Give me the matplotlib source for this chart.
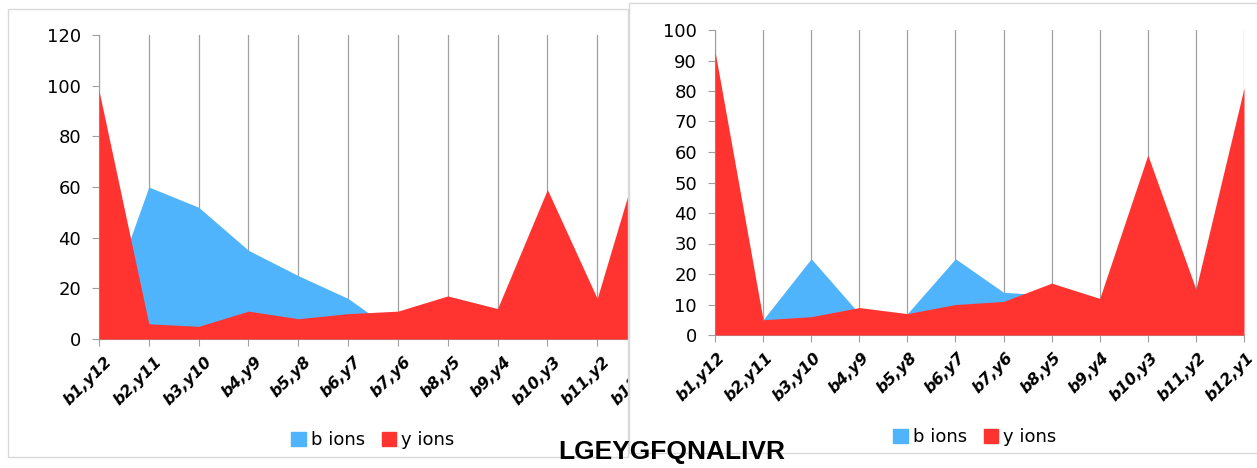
import matplotlib.pyplot as plt
from matplotlib.patches import Rectangle, Patch

# fragment ion intensities for LGEYGFQNALIVR, two spectra
labels = ["b1,y12", "b2,y11", "b3,y10", "b4,y9", "b5,y8", "b6,y7",
          "b7,y6", "b8,y5", "b9,y4", "b10,y3", "b11,y2", "b12,y1"]

b_left = [5, 60, 52, 35, 25, 16, 2, 3, 2, 1, 1, 0]
y_left = [98, 6, 5, 11, 8, 10, 11, 17, 12, 59, 16, 82]

b_right = [3, 5, 25, 7, 7, 25, 14, 13, 3, 2, 1, 0]
y_right = [93, 5, 6, 9, 7, 10, 11, 17, 12, 59, 15, 81]

blue = "#50b4fd"
red = "#ff3330"
gray = "#a0a0a0"

W, H = 1257, 468
fig = plt.figure(figsize=(W / 100, H / 100), dpi=100)


def px(x0, y0, x1, y1):
    # pixel box -> figure fraction [left, bottom, width, height]
    return [x0 / W, 1 - y1 / H, (x1 - x0) / W, (y1 - y0) / H]


def draw_panel(ax, b_vals, y_vals, ymax, ystep, dx):
    xs = list(range(len(labels)))
    ax.fill_between(xs, b_vals, color=blue, lw=0, zorder=2)
    ax.fill_between(xs, y_vals, color=red, lw=0, zorder=3)
    ax.set_xlim(0, len(labels) - 1)
    ax.set_ylim(0, ymax)
    ax.set_yticks(range(0, ymax + 1, ystep))
    ax.set_xticks(xs)
    ax.set_xticklabels([])
    # slanted category labels, nudged right of their tick
    for x, lab in zip(xs, labels):
        ax.annotate(lab, xy=(x, 0), xycoords=("data", "axes fraction"),
                    xytext=(dx, -11), textcoords="offset points",
                    rotation=45, ha="right", va="top", rotation_mode="anchor",
                    fontsize=11.5, fontweight="bold", fontstyle="italic",
                    annotation_clip=False)
    ax.tick_params(axis="y", labelsize=13, length=5, color=gray, pad=8)
    ax.tick_params(axis="x", length=5, color=gray)
    ax.grid(axis="x", color=gray, lw=0.9, zorder=1)
    ax.set_axisbelow(True)
    for side in ["top", "right"]:
        ax.spines[side].set_visible(False)
    for side in ["left", "bottom"]:
        ax.spines[side].set_color(gray)
    ax.set_facecolor("none")


# left spectrum (its right end runs under the second panel)
fig.patches.append(Rectangle((8 / W, 1 - 457 / H), 620 / W, 448 / H,
                             transform=fig.transFigure, fill=False,
                             ec="#d9d9d9", lw=1, zorder=0))
ax1 = fig.add_axes(px(99, 35, 647, 339))
ax1.set_zorder(0)
draw_panel(ax1, b_left, y_left, 120, 20, 4)

# white card for the second spectrum
fig.patches.append(Rectangle((629 / W, 1 - 453 / H), 640 / W, 450 / H,
                             transform=fig.transFigure, fc="white",
                             ec="#d9d9d9", lw=1, zorder=1))
ax2 = fig.add_axes(px(715, 30, 1244, 335))
ax2.set_zorder(2)
draw_panel(ax2, b_right, y_right, 100, 10, 1.5)

handles = [Patch(color=blue, label="b ions"), Patch(color=red, label="y ions")]
for cx, cy in [(373, 440), (975, 437)]:
    fig.legend(handles=handles, loc="center", bbox_to_anchor=(cx / W, 1 - cy / H),
               ncol=2, frameon=False, fontsize=13, handlelength=0.8,
               handleheight=0.8, handletextpad=0.3, columnspacing=0.9)

fig.text(672 / W, 1 - 452 / H, "LGEYGFQNALIVR", ha="center", va="center",
         fontsize=19, fontweight="bold", family="Liberation Sans", zorder=5)

fig.savefig("out.png", dpi=100)
